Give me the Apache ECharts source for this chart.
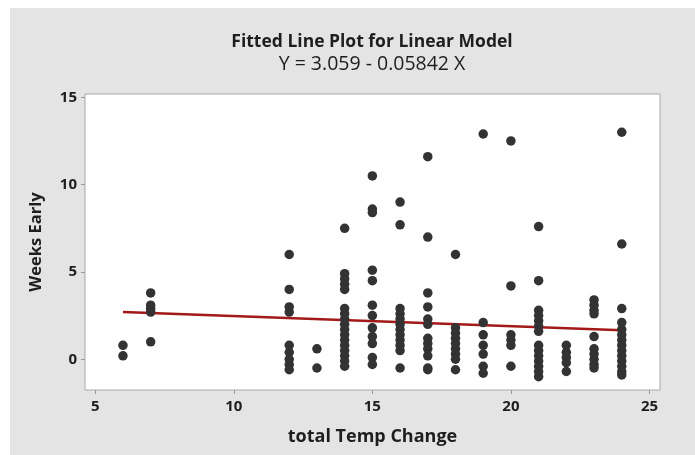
<!DOCTYPE html>
<html>
<head>
<meta charset="utf-8">
<script src="https://cdn.jsdelivr.net/npm/echarts@6/dist/echarts.min.js"></script>
<style>
  html, body { margin: 0; padding: 0; background: #fff; }
  #main { width: 695px; height: 455px; }
</style>
</head>
<body>
<div id="main"></div>
<script>
// total temp change (x) and weeks early readings (y) per column
const tempChange = [6, 7, 12, 13, 14, 15, 16, 17, 18, 19, 20, 21, 22, 23, 24];
const weeksEarly = [
    [0.8, 0.2],
    [3.8, 3.1, 2.9, 2.7, 1.0],
    [6.0, 4.0, 3.0, 2.7, 0.8, 0.4, 0.0, -0.3, -0.6],
    [0.6, -0.5],
    [7.5, 4.9, 4.6, 4.3, 4.0, 2.9, 2.6, 2.3, 2.0, 1.7, 1.4, 1.1, 0.8, 0.5, 0.2, -0.1, -0.4],
    [10.5, 8.6, 8.4, 5.1, 4.5, 3.1, 2.5, 1.8, 1.3, 0.9, 0.1, -0.3],
    [9.0, 7.7, 2.9, 2.6, 2.3, 2.0, 1.7, 1.4, 1.1, 0.8, 0.5, -0.5],
    [11.6, 7.0, 3.8, 3.0, 2.3, 2.0, 1.2, 0.9, 0.6, 0.2, -0.5, -0.6],
    [6.0, 1.8, 1.5, 1.2, 0.9, 0.6, 0.3, 0.0, -0.6],
    [12.9, 2.1, 1.4, 0.8, 0.3, -0.4, -0.8],
    [12.5, 4.2, 1.4, 1.1, 0.8, -0.4],
    [7.6, 4.5, 2.8, 2.5, 2.2, 1.9, 1.6, 0.8, 0.5, 0.2, -0.1, -0.4, -0.7, -1.0],
    [0.8, 0.4, 0.1, -0.2, -0.7],
    [3.4, 3.1, 2.8, 2.6, 1.3, 0.6, 0.3, 0.0, -0.3, -0.5],
    [13.0, 6.6, 2.9, 2.1, 1.7, 1.4, 1.1, 0.8, 0.5, 0.2, -0.1, -0.4, -0.7, -0.9]
];
// fitted line Y = 3.059 - 0.05842 X, end points
const fitX = [6, 24];
const fitY = [2.708, 1.657];
const xTicks = [5, 10, 15, 20, 25];
const yTicks = [0, 5, 10, 15];

function getPoints() {
    var pts = [];
    for (var i = 0; i < tempChange.length; i++) {
        for (var j = 0; j < weeksEarly[i].length; j++) {
            pts.push([tempChange[i], weeksEarly[i][j]]);
        }
    }
    return pts;
}

function getFit() {
    var obj = [];
    for (var i = 0; i < fitX.length; i++) obj.push([fitX[i], fitY[i]]);
    return obj;
}

const font = 'Open Sans';
const txt = '#1e1e1e';
var myChart = echarts.init(document.getElementById('main'), null, { renderer: 'canvas' });
var option = {
    animation: false,
    backgroundColor: '#fff',
    graphic: [{
        type: 'rect', z: -10, silent: true,
        shape: { x: 10, y: 8, width: 685, height: 447 },
        style: { fill: '#e4e4e4' }
    }],
    title: [
        {
            text: 'Fitted Line Plot for Linear Model',
            left: 372, top: 33, textAlign: 'center', padding: 0,
            textStyle: { fontFamily: font, fontSize: 17.5, fontWeight: 'bold', color: txt }
        },
        {
            text: 'Y = 3.059 - 0.05842 X',
            left: 372, top: 54, textAlign: 'center', padding: 0,
            textStyle: { fontFamily: font, fontSize: 19.5, fontWeight: 'normal', color: txt }
        }
    ],
    grid: {
        left: 85, top: 94, right: 35, bottom: 65,
        show: true, backgroundColor: '#fff', borderColor: '#a8a8a8', borderWidth: 1
    },
    xAxis: {
        type: 'value', min: 4.63, max: 25.38,
        name: 'total Temp Change', nameLocation: 'middle', nameGap: 38,
        nameTextStyle: { fontFamily: font, fontSize: 18, fontWeight: 'bold', color: txt },
        axisLine: { show: false, onZero: false },
        splitLine: { show: false },
        axisTick: { show: true, length: 4, customValues: xTicks, lineStyle: { color: '#999' } },
        axisLabel: { customValues: xTicks, margin: 9, fontFamily: font, fontSize: 15, fontWeight: 'bold', color: txt }
    },
    yAxis: {
        type: 'value', min: -1.76, max: 15.19,
        name: 'Weeks Early', nameLocation: 'middle', nameGap: 40,
        nameTextStyle: { fontFamily: font, fontSize: 16.5, fontWeight: 'bold', color: txt },
        axisLine: { show: false, onZero: false },
        splitLine: { show: false },
        axisTick: { show: true, length: 4, customValues: yTicks, lineStyle: { color: '#999' } },
        axisLabel: { customValues: yTicks, margin: 8, fontFamily: font, fontSize: 15, fontWeight: 'bold', color: txt }
    },
    series: [
        {
            type: 'line', data: getFit(), symbol: 'none', z: 1,
            lineStyle: { color: '#a31818', width: 2.5 }
        },
        {
            type: 'scatter', data: getPoints(), symbolSize: 9.5, z: 2,
            itemStyle: { color: '#333', opacity: 1 }
        }
    ]
};
myChart.setOption(option);
</script>
</body>
</html>
